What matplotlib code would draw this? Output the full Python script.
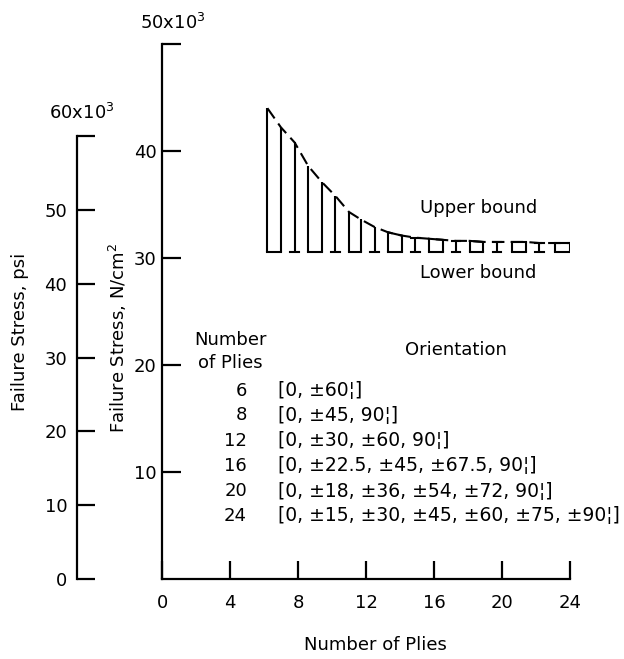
import numpy as np
import matplotlib.pyplot as plt

plt.rcParams['font.family'] = ['DejaVu Sans']

# hatch lines between the bounds (x = number of plies, y = 10^3 N/cm^2)
hatch_x = [6.2, 7.0, 7.8, 8.6, 9.4, 10.2, 11.0, 11.7, 12.5, 13.3, 14.1, 14.9,
           15.7, 16.5, 17.3, 18.1, 18.9, 19.7, 20.6, 21.4, 22.2, 23.1, 24.0]
upper = [44.0, 42.2, 40.8, 38.6, 37.1, 35.8, 34.3, 33.6, 32.9, 32.4, 32.1, 31.9,
         31.8, 31.7, 31.6, 31.6, 31.5, 31.5, 31.5, 31.5, 31.4, 31.4, 31.4]
lower = 30.6

x_ticks = [0, 4, 8, 12, 16, 20, 24]
ncm_ticks = [10, 20, 30, 40, 50]
psi_ticks = [0, 10, 20, 30, 40, 50, 60]

plies = ["6", "8", "12", "16", "20", "24"]
orient = ["[0, \u00b160\u00a6]",
          "[0, \u00b145, 90\u00a6]",
          "[0, \u00b130, \u00b160, 90\u00a6]",
          "[0, \u00b122.5, \u00b145, \u00b167.5, 90\u00a6]",
          "[0, \u00b118, \u00b136, \u00b154, \u00b172, 90\u00a6]",
          "[0, \u00b115, \u00b130, \u00b145, \u00b160, \u00b175, \u00b190\u00a6]"]

FS = 13
W, H = 624, 659
fig = plt.figure(figsize=(W / 100, H / 100), dpi=100)

x0, x1, y0, y1 = 162, 570, 579, 44
ax = fig.add_axes([x0 / W, 1 - y0 / H, (x1 - x0) / W, (y0 - y1) / H])
ax.set_xlim(0, 24)
ax.set_ylim(0, 50)
for s in ("top", "right"):
    ax.spines[s].set_visible(False)
for s in ("left", "bottom"):
    ax.spines[s].set_linewidth(1.6)
ax.set_xticks(x_ticks)
ax.set_xticklabels([str(v) for v in x_ticks], fontsize=FS)
ax.set_yticks(ncm_ticks)
ax.set_yticklabels([str(v) for v in ncm_ticks[:-1]] + [""], fontsize=FS)
ax.tick_params(axis="x", direction="in", length=13, width=1.6, pad=11)
ax.tick_params(axis="y", direction="in", length=14, width=1.6, pad=4)
ax.text(0.65, 51.0, "50x10$^3$", fontsize=FS, ha="center", va="bottom")

# psi axis on the far left (1 psi = 0.6895 N/cm^2)
h_main = (y0 - y1) / H
ax2 = fig.add_axes([77 / W, 1 - y0 / H, 0.001, h_main * 60 * 0.6895 / 50])
ax2.set_ylim(0, 60)
ax2.set_xticks([])
for s in ("top", "right", "bottom"):
    ax2.spines[s].set_visible(False)
ax2.spines["left"].set_linewidth(1.6)
ax2.patch.set_alpha(0)
ax2.set_yticks(psi_ticks)
ax2.set_yticklabels([str(v) for v in psi_ticks[:-1]] + [""], fontsize=FS)
ax2.tick_params(axis="y", direction="in", length=13, width=1.6, pad=7)
fig.text(82 / W, 1 - 113 / H, "60x10$^3$", fontsize=FS, ha="center", va="center")

# axis titles
fig.text(20 / W, 1 - 332 / H, "Failure Stress, psi", fontsize=FS,
         rotation=90, ha="center", va="center")
fig.text(118 / W, 1 - 338 / H, "Failure Stress, N/cm$^2$", fontsize=FS,
         rotation=90, ha="center", va="center")
fig.text(375 / W, 1 - 645 / H, "Number of Plies", fontsize=FS,
         ha="center", va="center")

# hatching between bounds
lw = 1.5
ax.vlines(hatch_x, lower, upper, color="black", lw=lw)
ax.plot(hatch_x, upper, color="black", lw=lw, dashes=(6, 3))
for i in range(0, len(hatch_x), 3):
    if i + 1 < len(hatch_x):
        ax.plot([hatch_x[i], hatch_x[i + 1]], [lower, lower], color="black", lw=lw)
        if i >= 9:
            ax.plot([hatch_x[i], hatch_x[i + 1]], [upper[i], upper[i + 1]],
                    color="black", lw=lw)
    if i + 2 < len(hatch_x):
        xc = hatch_x[i + 2]
        ax.plot([xc - 0.25, xc + 0.25], [lower, lower], color="black", lw=lw)
        if i >= 9:
            ax.plot([xc - 0.25, xc + 0.25], [upper[i + 2]] * 2, color="black", lw=lw)

ax.text(18.6, 34.7, "Upper bound", fontsize=FS, ha="center", va="center")
ax.text(18.6, 28.6, "Lower bound", fontsize=FS, ha="center", va="center")

# table of layups
ax.text(4.0, 21.3, "Number\nof Plies", fontsize=FS, ha="center", va="center",
        linespacing=1.35)
ax.text(17.3, 21.4, "Orientation", fontsize=FS, ha="center", va="center")
row_y = [17.6, 15.3, 12.9, 10.6, 8.2, 5.9]
for p, o, yy in zip(plies, orient, row_y):
    ax.text(5.0, yy, p, fontsize=FS, ha="right", va="center")
    ax.text(6.8, yy, o, fontsize=13.5, ha="left", va="center", clip_on=False)

fig.savefig("out.png", dpi=100)
